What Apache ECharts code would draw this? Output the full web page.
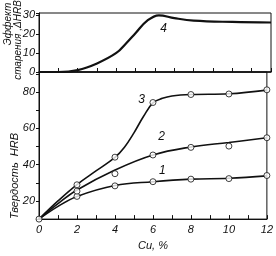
<!DOCTYPE html>
<html><head><meta charset="utf-8">
<script src="https://cdn.jsdelivr.net/npm/echarts@6/dist/echarts.min.js"></script>
<style>html,body{margin:0;padding:0;background:#fff}#c{width:276px;height:256px}</style>
</head><body><div id="c"></div>
<script>
// Top panel: ageing effect, curve 4
const curve4 = [[0,0],[1,0],[2,1],[3,4.5],[4,10],[4.5,15],[5,20.5],[5.6,27],[6.2,29.8],[7,28.3],[8,27],[10,26.3],[12,26]];
// Bottom panel: hardness curves 1,2,3 (smooth lines)
const curve1 = [[0,10],[1,17],[2,22.5],[4,28.5],[6,30.6],[8,32],[10,32.5],[12,33.8]];
const curve2 = [[0,10],[1,18.5],[2,26],[4,37],[6,45.3],[8,49.7],[10,52.2],[12,54.8]];
const curve3 = [[0,10],[1,20],[2,29],[3,36.5],[4,44],[4.5,49.6],[5,57.5],[5.5,66.5],[6,74],[6.5,76.5],[7,77.8],[8,78.6],[10,79],[12,81]];
// Measured points (open circles)
const pts1 = [[0,10],[2,22.5],[4,28.3],[6,30.6],[8,32],[10,32.3],[12,34]];
const pts2 = [[2,25.4],[4,35],[6,45.3],[8,49.5],[10,50.2],[12,54.8]];
const pts3 = [[2,28.9],[4,44.1],[6,74.2],[8,78.6],[10,78.9],[12,81.2]];
const xTicks = [0,2,4,6,8,10,12];

const font = {fontFamily:'Liberation Sans', fontStyle:'italic', color:'#111', fontSize:11};
const chart = echarts.init(document.getElementById('c'));
function lbl(txt, x, y){
  return {coord:[x,y], value:txt, symbol:'circle', symbolSize:0,
    label:{show:true, formatter:txt, position:'inside', ...font, fontSize:12}};
}
const lineStyle = w => ({color:'#111', width:w});
chart.setOption({
  animation:false,
  backgroundColor:'#fff',
  grid:[
    {left:39, right:5, top:13, height:59, show:true, borderColor:'#111', borderWidth:1},
    {left:39, right:5, top:72, bottom:28, show:true, borderColor:'#111', borderWidth:1}
  ],
  xAxis:[
    {gridIndex:0, type:'value', min:0, max:12, interval:1, position:'bottom',
     axisLine:{lineStyle:{color:'#111', width:1.5}}, axisTick:{inside:true, length:4, lineStyle:{color:'#111'}},
     axisLabel:{show:false}, splitLine:{show:false}},
    {gridIndex:1, type:'value', min:0, max:12, interval:1,
     axisLine:{lineStyle:{color:'#111', width:1}}, axisTick:{inside:true, length:4, lineStyle:{color:'#111'}},
     axisLabel:{...font, margin:5, formatter:v => xTicks.includes(v) ? String(v) : ''},
     splitLine:{show:false},
     name:'Cu, %', nameLocation:'middle', nameGap:19, nameTextStyle:{...font, fontSize:11}}
  ],
  yAxis:[
    {gridIndex:0, type:'value', min:0, max:31, interval:10,
     axisLine:{show:true, lineStyle:{color:'#111'}}, axisTick:{length:3, lineStyle:{color:'#111'}},
     axisLabel:{...font, margin:4, formatter:v => v % 10 === 0 ? String(v) : ''}, splitLine:{show:false}},
    {gridIndex:1, type:'value', min:10, max:91, interval:10,
     axisLine:{show:true, lineStyle:{color:'#111'}}, axisTick:{length:3, lineStyle:{color:'#111'}},
     axisLabel:{...font, margin:4, formatter:v => (v % 20 === 0 && v >= 20 && v <= 80) ? String(v) : ''},
     splitLine:{show:false}}
  ],
  series:[
    {type:'line', xAxisIndex:0, yAxisIndex:0, data:curve4, smooth:0.4, showSymbol:false, lineStyle:lineStyle(2.2),
     markPoint:{data:[lbl('4', 6.45, 23)]}},
    {type:'line', xAxisIndex:1, yAxisIndex:1, data:curve1, smooth:0.4, showSymbol:false, lineStyle:lineStyle(1.6),
     markPoint:{data:[lbl('1', 6.5, 36.5)]}},
    {type:'line', xAxisIndex:1, yAxisIndex:1, data:curve2, smooth:0.4, showSymbol:false, lineStyle:lineStyle(1.6),
     markPoint:{data:[lbl('2', 6.45, 55.5)]}},
    {type:'line', xAxisIndex:1, yAxisIndex:1, data:curve3, smooth:0.4, showSymbol:false, lineStyle:lineStyle(1.6),
     markPoint:{data:[lbl('3', 5.4, 75.5)]}},
    ...[pts1, pts2, pts3].map(p => ({type:'scatter', xAxisIndex:1, yAxisIndex:1, data:p, symbol:'circle', symbolSize:6,
      itemStyle:{color:'#fff', borderColor:'#111', borderWidth:1}, z:5}))
  ],
  graphic:[
    {type:'text', x:8, y:24, rotation:Math.PI/2, style:{text:'Эффект', ...font, fill:'#111', fontSize:10, align:'center', verticalAlign:'middle'}},
    {type:'text', x:18, y:40, rotation:Math.PI/2, style:{text:'старения ,ΔHRB', ...font, fill:'#111', fontSize:10, align:'center', verticalAlign:'middle'}},
    {type:'text', x:15, y:176, rotation:Math.PI/2, style:{text:'Твердость  HRB', ...font, fill:'#111', fontSize:11, align:'center', verticalAlign:'middle'}}
  ]
});
</script></body></html>
